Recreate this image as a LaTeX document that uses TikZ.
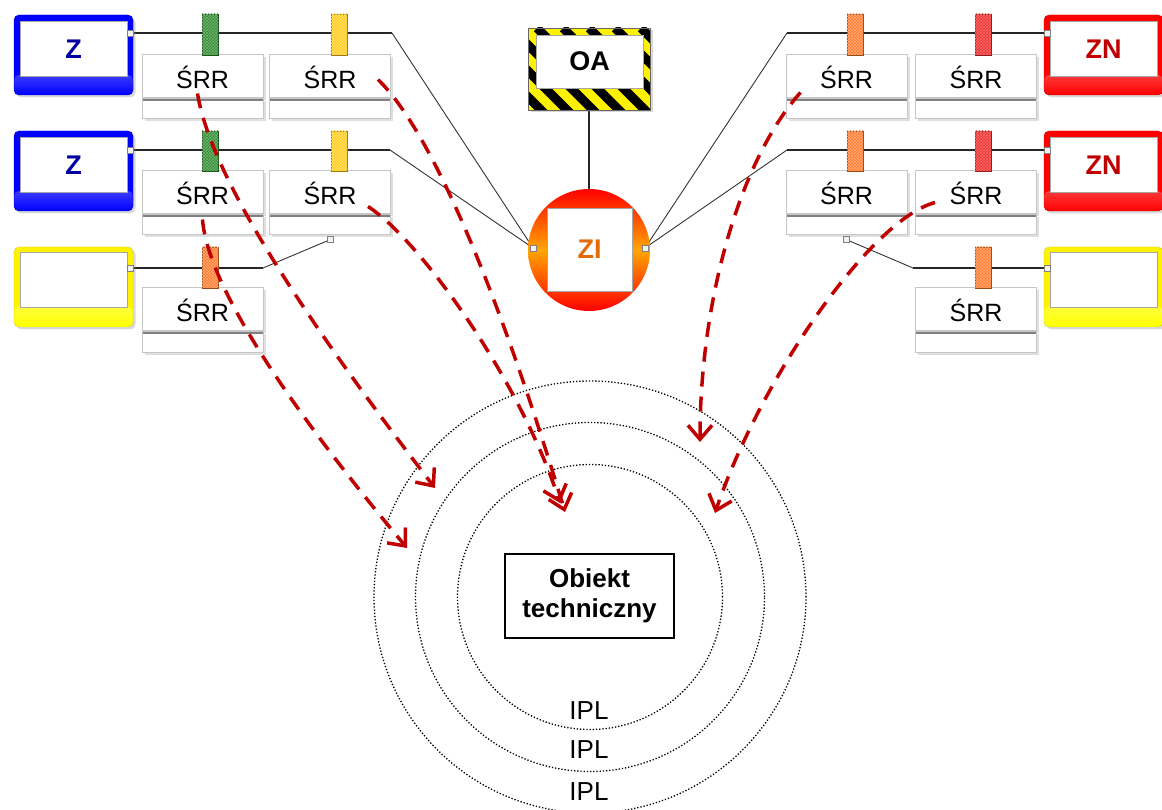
\documentclass[tikz,border=0pt]{standalone}
\usepackage{fontspec}
\setmainfont{Liberation Sans}
\usepackage{tikz}
\usetikzlibrary{arrows.meta,backgrounds,calc,patterns,positioning,shadows}
\definecolor{darkred}{HTML}{C00000}
\definecolor{navy}{HTML}{0000A0}
\definecolor{ziorange}{HTML}{E36C09}
\definecolor{tabgreen}{HTML}{2E8B2E}
\definecolor{tabyellow}{HTML}{FFCC1A}
\definecolor{taborange}{HTML}{FF7A2A}
\definecolor{tabred}{HTML}{F02828}

\tikzset{
  shade box/.style={rounded corners=5pt, minimum width=119pt, minimum height=80pt, fill=#1, draw=#1!80!black,
    drop shadow={shadow xshift=2.5pt, shadow yshift=-2.5pt, opacity=.3},
    path picture={\shade[top color=#1!10, bottom color=#1] ([yshift=20pt]path picture bounding box.south west) rectangle (path picture bounding box.south east);}},
  lbl/.style={fill=white, draw=gray!70, minimum width=107pt, minimum height=55pt, font=\fontsize{27}{30}\selectfont\bfseries},
  srr/.style={fill=white, draw=gray!45, line width=1pt, minimum width=121pt, minimum height=43pt, inner ysep=4pt,
    text height=30pt, text depth=5pt, font=\fontsize{25}{28}\selectfont,
    drop shadow={shadow xshift=2.5pt, shadow yshift=-2.5pt, opacity=.25}},
  srrfoot/.style={fill=white, draw=gray!45, line width=1pt, minimum width=121pt, minimum height=20pt, inner sep=0pt,
    below=0pt of #1, drop shadow={shadow xshift=2.5pt, shadow yshift=-2.5pt, opacity=.25},
    path picture={\draw[gray, line width=3.5pt] (path picture bounding box.north west) -- (path picture bounding box.north east);}},
  tab/.style={draw=#1!60!black, line width=.6pt, fill=#1, postaction={pattern=crosshatch, pattern color=white!35!#1}},
  port/.style={draw=gray, fill=gray!10, minimum width=6pt, minimum height=6pt, inner sep=0pt},
  link/.style={draw=black!85, line width=1.4pt},
  link thin/.style={draw=black!80, line width=.9pt},
  oa/.style={minimum width=122pt, minimum height=82pt, fill=yellow, draw=black!60,
    drop shadow={shadow xshift=2.5pt, shadow yshift=-2.5pt, opacity=.3},
    path picture={\foreach \k in {-8,...,5} \draw[black, line width=9pt] ([xshift=\k*26pt]path picture bounding box.north) -- ++(100pt,-100pt);}},
  zi/.style={circle, minimum size=122pt, top color=red, bottom color=red, middle color=orange!70!yellow},
  ring/.style={circle, draw, line width=1.3pt, dash pattern=on 1.3pt off 1.9pt, inner sep=0pt},
  ipl/.style={font=\fontsize{26}{28}\selectfont, inner sep=0pt},
  risk/.style={darkred, line width=3.5pt, dash pattern=on 15pt off 10pt, -{Straight Barb[length=14pt,width=24pt]}}
}

\begin{document}
\begin{tikzpicture}[x=1pt,y=-1pt]
\useasboundingbox (0,0) rectangle (1162,810);

\node[ring, minimum size=432pt] (ring3) at (590,597) {};
\node[ring, minimum size=349pt] (ring2) at (590,597) {};
\node[ring, minimum size=265pt] (ring1) at (590,597) {};
\node[ipl] (ipl1) at (589,711) {IPL};
\node[ipl] (ipl2) at (589,750) {IPL};
\node[ipl] (ipl3) at (589,792) {IPL};
\node[draw, line width=1.5pt, minimum width=169pt, minimum height=84pt, align=center, font=\fontsize{26}{30}\selectfont\bfseries] (obj) at (589.5,596) {Obiekt\\techniczny};

\node[shade box=blue] (z1) at (73.5,55) {};
\node[lbl, text=navy] (z1t) at (73.5,49) {Z};
\node[shade box=blue] (z2) at (73.5,171) {};
\node[lbl, text=navy] (z2t) at (73.5,165) {Z};
\node[shade box=yellow] (y1) at (73.5,287) {};
\node[lbl] (y1t) at (73.5,280) {};
\node[shade box=red] (n1) at (1103.5,55) {};
\node[lbl, text=darkred] (n1t) at (1103.5,49) {ZN};
\node[shade box=red] (n2) at (1103.5,171) {};
\node[lbl, text=darkred] (n2t) at (1103.5,165) {ZN};
\node[shade box=yellow] (y2) at (1103.5,287) {};
\node[lbl] (y2t) at (1103.5,280) {};

\node[srr] (s11) at (202.5,76.5) {ŚRR};
\node[srrfoot=s11] (f11) {};
\node[srr] (s12) at (330,76.5) {ŚRR};
\node[srrfoot=s12] (f12) {};
\node[srr] (s21) at (202.5,192.5) {ŚRR};
\node[srrfoot=s21] (f21) {};
\node[srr] (s22) at (330,192.5) {ŚRR};
\node[srrfoot=s22] (f22) {};
\node[srr] (s31) at (202.5,309.5) {ŚRR};
\node[srrfoot=s31] (f31) {};
\node[srr] (r11) at (846.5,76.5) {ŚRR};
\node[srrfoot=r11] (g11) {};
\node[srr] (r12) at (976,76.5) {ŚRR};
\node[srrfoot=r12] (g12) {};
\node[srr] (r21) at (846.5,192.5) {ŚRR};
\node[srrfoot=r21] (g21) {};
\node[srr] (r22) at (976,192.5) {ŚRR};
\node[srrfoot=r22] (g22) {};
\node[srr] (r32) at (976,309.5) {ŚRR};
\node[srrfoot=r32] (g32) {};

\node[oa] (oa) at (589,69) {};
\node[lbl, minimum height=53pt] (oat) at (589.5,61.5) {OA};
\node[zi] (zi) at (589,250) {};
\node[lbl, minimum width=85pt, minimum height=83pt, text=ziorange] (zit) at (589.5,249.5) {ZI};

\node[port] (pz1) at (130,33) {};
\node[port] (pz2) at (130,150) {};
\node[port] (py1) at (130,268) {};
\node[port] (pn1) at (1047,33) {};
\node[port] (pn2) at (1047,150) {};
\node[port] (py2) at (1047,268) {};
\node[port, below=1pt of f22] (p22) {};
\node[port, below=1pt of g21] (p21) {};
\node[port] (zil) at (533,248) {};
\node[port] (zir) at (645,248) {};

\coordinate (b1) at (392,33);
\coordinate (b2) at (390,150);
\coordinate (b3) at (263,268);
\coordinate (b4) at (787,33);
\coordinate (b5) at (787,150);
\coordinate (b6) at (913,268);
\begin{scope}[on background layer]
\draw[link] (pz1) -- (b1);
\draw[link thin] (b1) -- (zil);
\draw[link, line width=2.2pt] (pz2) -- (b2);
\draw[link thin] (b2) -- (zil);
\draw[link] (py1) -- (b3);
\draw[link thin] (b3) -- (p22);
\draw[link] (pn1) -- (b4);
\draw[link thin] (b4) -- (zir);
\draw[link, line width=2.2pt] (pn2) -- (b5);
\draw[link thin] (b5) -- (zir);
\draw[link] (py2) -- (b6);
\draw[link thin] (b6) -- (p21);
\draw[link] (oa) -- (zi);
\end{scope}

\draw[tab=tabgreen] (202,14) rectangle (218,55);
\draw[tab=tabyellow] (331,14) rectangle (347,55);
\draw[tab=tabgreen] (202,131) rectangle (218,171);
\draw[tab=tabyellow] (331,131) rectangle (347,171);
\draw[tab=taborange] (202,247) rectangle (218,288);
\draw[tab=taborange] (847,14) rectangle (863,55);
\draw[tab=tabred] (975,14) rectangle (991,55);
\draw[tab=taborange] (847,131) rectangle (863,171);
\draw[tab=tabred] (975,131) rectangle (991,171);
\draw[tab=taborange] (975,247) rectangle (991,288);

\coordinate (e1) at (435,488);
\coordinate (e2) at (407,548);
\coordinate (e3) at (565,512);
\coordinate (e4) at (560,503);
\coordinate (e5) at (700,442);
\coordinate (e6) at (715,513);
\draw[risk] ([shift={(-5,-5)}]s11.south) .. controls (210,170) and (290,300) .. (e1);
\draw[risk] ([yshift=-5pt]s21.south) .. controls (208,290) and (300,420) .. (e2);
\draw[risk] ([shift={(48,3)}]s12.center) .. controls (440,140) and (510,330) .. (e3);
\draw[risk] ([shift={(38,14)}]s22.center) .. controls (420,240) and (520,380) .. (e4);
\draw[risk] ([shift={(-46,16)}]r11.center) .. controls (740,160) and (700,300) .. (e5);
\draw[risk] ([shift={(-41,10)}]r22.center) .. controls (870,220) and (760,380) .. (e6);
\end{tikzpicture}
\end{document}
